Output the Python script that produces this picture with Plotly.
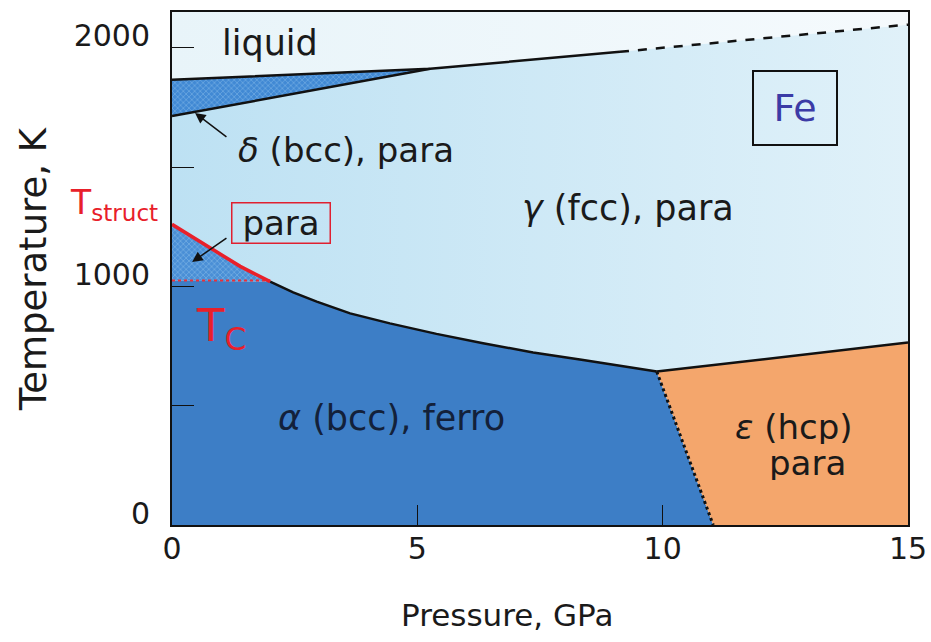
import plotly.graph_objects as go

# ---- data (P in GPa, T in K) ----
T_TOP = 2150
# melting line (solid part) and its extrapolation (dashed)
P_melt = [0.0, 5.26, 9.13]
T_melt = [1866, 1912, 1983]
P_melt_ext = [9.13, 15.0]
T_melt_ext = [1983, 2097]
# delta / gamma boundary
P_dg = [0.0, 5.26]
T_dg = [1714, 1912]
# alpha/gamma structural transition, red part (T_struct)
P_red = [0.0, 0.77, 1.39, 2.0]
T_red = [1260, 1164, 1084, 1020]
# alpha/gamma boundary, black part
P_ag = [2.0, 2.47, 2.95, 3.63, 4.44, 5.39, 6.34, 7.36, 8.38, 9.20, 9.88]
T_ag = [1020, 975, 936, 887, 845, 801, 762, 723, 692, 664, 643]
# gamma / epsilon boundary
P_ge = [9.88, 15.0]
T_ge = [643, 765]
# alpha / epsilon boundary (dotted)
P_ae = [9.88, 11.03]
T_ae = [643, 0]
# Curie temperature line
P_tc = [0.0, 2.0]
T_tc = [1025, 1025]

FONT = "DejaVu Sans"

fig = go.Figure()


def region(P, T, **kw):
    fig.add_trace(go.Scatter(x=P, y=T, mode="lines", fill="toself",
                             line=dict(width=0, color="rgba(0,0,0,0)"),
                             hoverinfo="skip", showlegend=False, **kw))


# liquid
region([0.0] + P_melt + P_melt_ext[1:] + [15.0, 0.0],
       [T_melt[0]] + T_melt + T_melt_ext[1:] + [T_TOP, T_TOP],
       fillgradient=dict(type="horizontal",
                         colorscale=[[0, "#e8f4f9"], [1, "#f5fafd"]]))
# gamma
gP = [P_red[0]] + P_dg + P_melt[1:] + P_melt_ext[1:] + P_ge[::-1] + P_ag[::-1] + P_red[::-1]
gT = [T_red[0]] + T_dg + T_melt[1:] + T_melt_ext[1:] + T_ge[::-1] + T_ag[::-1] + T_red[::-1]
region(gP, gT, fillgradient=dict(type="horizontal",
                                 colorscale=[[0, "#bde1f3"], [1, "#e0f1f9"]]))
# delta (hatched)
region(P_dg + [P_melt[0]], T_dg + [T_melt[0]],
       fillcolor="#4189d4",
       fillpattern=dict(shape="x", size=4, solidity=0.3,
                        fgcolor="#a8d3f2", bgcolor="#4189d4"))
# para region between T_C and T_struct (hatched)
region(P_red + [P_tc[0]], T_red + [T_tc[0]],
       fillcolor="#4a8fd6",
       fillpattern=dict(shape="x", size=4, solidity=0.3,
                        fgcolor="#acd6f3", bgcolor="#4a8fd6"))
# alpha
region([0.0, 0.0] + P_ag + [P_ae[1]], [0, T_tc[0]] + T_ag + [T_ae[1]],
       fillcolor="#3d7ec6")
# epsilon
region(P_ge + [15.0, P_ae[1]], T_ge + [0, T_ae[1]], fillcolor="#f4a66c")


def line(P, T, color="#111111", width=2.5, dash="solid"):
    fig.add_trace(go.Scatter(x=P, y=T, mode="lines",
                             line=dict(color=color, width=width, dash=dash),
                             hoverinfo="skip", showlegend=False))


line(P_melt, T_melt)
line(P_melt_ext, T_melt_ext, dash="dash")
line(P_dg, T_dg)
line(P_ag, T_ag)
line(P_ge, T_ge)
line(P_ae, T_ae, width=3, dash="dot")
line(P_tc, T_tc, color="#e8303a", width=2, dash="dot")
line(P_red, T_red, color="#e8202a", width=3.5)

ann = []


def label(x, y, text, size=35, color="#1a1a1a", xref="x", yref="y", **kw):
    ann.append(dict(x=x, y=y, xref=xref, yref=yref, text=text, showarrow=False,
                    xanchor="center", yanchor="middle",
                    font=dict(family=FONT, size=size, color=color), **kw))


label(2.0, 2020, "liquid")
label(3.55, 1572, "<i>δ</i> (bcc), para", size=34)
label(9.3, 1329, "<i>γ</i> (fcc), para")
label(4.48, 448, "<i>α</i> (bcc), ferro", color="#13213a")
label(12.68, 410, "<i>ε</i> (hcp)", size=34, height=34)
label(12.95, 258, "para", size=34, height=34)
label(12.70, 1746, "Fe", size=38, color="#3b3ba6",
      bordercolor="#111111", borderwidth=2, width=80, height=70,
      bgcolor="rgba(0,0,0,0)")
label(2.23, 1264, "para", size=34, bordercolor="#e02030", borderwidth=1.5,
      width=95, height=37, bgcolor="rgba(0,0,0,0)")
label(-0.079, 1345, "T<sub>struct</sub>", size=33, color="#e8202a", xref="paper")
label(1.0, 825, "T<sub>C</sub>", size=45, color="#e8202a")
# axis titles
label(0.455, -0.175, "Pressure, GPa", size=31, xref="paper", yref="paper")
label(-0.188, 0.5, "Temperature, K", size=37, xref="paper", yref="paper",
      textangle=-90)


def arrow(x, y, ax, ay):
    ann.append(dict(x=x, y=y, ax=ax, ay=ay, xref="x", yref="y",
                    axref="x", ayref="y", text="", showarrow=True,
                    arrowhead=2, arrowsize=1.4, arrowwidth=1.5,
                    arrowcolor="#111111"))


arrow(0.47, 1727, 1.14, 1622)
arrow(0.41, 1102, 1.14, 1207)

fig.update_layout(
    width=931, height=642,
    margin=dict(l=172, r=23, t=12, b=117),
    paper_bgcolor="white", plot_bgcolor="white",
    font=dict(family=FONT, size=30, color="#1a1a1a"),
    annotations=ann,
    showlegend=False,
    xaxis=dict(range=[0, 15], tickvals=[0, 5, 10, 15], ticks="inside",
               ticklen=20, tickwidth=1, tickcolor="#111111",
               showgrid=False, zeroline=False, showline=True, mirror=True,
               linecolor="#111111", linewidth=2, automargin=False,
               tickfont=dict(size=30), ticklabelstandoff=-4),
    yaxis=dict(range=[0, T_TOP], tickvals=[0, 500, 1000, 1500, 2000],
               ticktext=["0", "", "1000", "", "2000"], ticks="inside",
               ticklen=22, tickwidth=1, tickcolor="#111111",
               showgrid=False, zeroline=False, showline=True, mirror=True,
               linecolor="#111111", linewidth=2, automargin=False,
               tickfont=dict(size=30), ticklabelstandoff=14,
               ticklabelshift=-12),
)

fig.write_html("out.html",
               config={"displayModeBar": False},
               post_script="document.body.style.margin='0';"
                           "document.body.style.overflow='hidden';")
